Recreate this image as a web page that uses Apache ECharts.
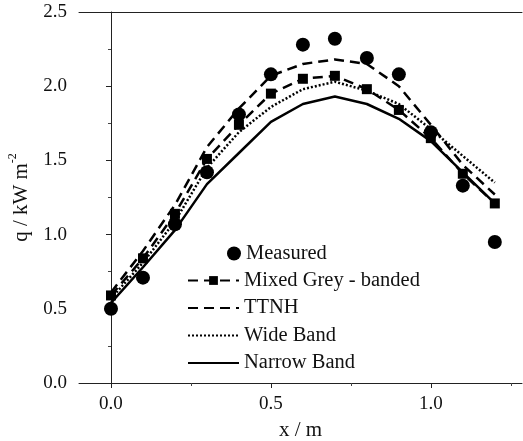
<!DOCTYPE html>
<html>
<head>
<meta charset="utf-8">
<script src="https://cdn.jsdelivr.net/npm/echarts@6/dist/echarts.min.js"></script>
<style>
  html, body { margin: 0; padding: 0; background: #fff; }
  #chart { width: 523px; height: 441px; }
</style>
</head>
<body>
<div id="chart"></div>
<script>
// x positions (m)
const xs = [0, 0.1, 0.2, 0.3, 0.4, 0.5, 0.6, 0.7, 0.8, 0.9, 1.0, 1.1, 1.2]
// heat flux q (kW m-2)
const measured = [0.50, 0.71, 1.07, 1.42, 1.81, 2.08, 2.28, 2.32, 2.19, 2.08, 1.69, 1.33, 0.95]
const mixedGrey = [0.59, 0.84, 1.14, 1.51, 1.74, 1.95, 2.05, 2.07, 1.98, 1.84, 1.65, 1.41, 1.21]
const ttnh = [0.61, 0.89, 1.20, 1.59, 1.85, 2.07, 2.15, 2.18, 2.15, 2.00, 1.74, 1.47, 1.27]
const wideBand = [0.57, 0.81, 1.09, 1.45, 1.69, 1.86, 1.98, 2.03, 1.97, 1.88, 1.71, 1.53, 1.35]
const narrowBand = [0.54, 0.78, 1.03, 1.34, 1.55, 1.76, 1.88, 1.93, 1.88, 1.78, 1.63, 1.42, 1.21]
const xMajorTicks = [0, 0.5, 1.0]
const xMinorTicks = [0.25, 0.75, 1.25]

const pairs = (ys) => xs.map((x, i) => [x, ys[i]])
const serif = 'Liberation Serif'

const chart = echarts.init(document.getElementById('chart'))
chart.setOption({
  animation: false,
  grid: { left: 79, right: 1, top: 12, bottom: 58, containLabel: false, outerBoundsMode: 'none' },
  legend: [
    {
      data: ['Measured'],
      orient: 'vertical',
      left: 222,
      top: 238,
      itemWidth: 14,
      itemHeight: 14,
      textStyle: { fontFamily: serif, fontSize: 20.5, color: '#111', lineHeight: 20 }
    },
    {
      data: [
        'Mixed Grey - banded',
        { name: 'TTNH', itemStyle: { opacity: 0 } },
        { name: 'Wide Band', itemStyle: { opacity: 0 } },
        { name: 'Narrow Band', itemStyle: { opacity: 0 } }
      ],
      orient: 'vertical',
      left: 182,
      top: 265,
      itemWidth: 51,
      itemHeight: 11,
      itemGap: 6.5,
      textStyle: { fontFamily: serif, fontSize: 20.5, color: '#111', lineHeight: 20 }
    }
  ],
  xAxis: [
    {
      type: 'value',
      min: -0.1,
      max: 1.285,
      position: 'bottom',
      name: 'x / m',
      nameLocation: 'middle',
      nameGap: 37,
      nameTextStyle: { fontFamily: serif, fontSize: 21, color: '#111' },
      axisLine: { lineStyle: { color: '#222', width: 1 } },
      axisTick: { show: true, length: 5, customValues: xMajorTicks, lineStyle: { color: '#222' } },
      axisLabel: {
        customValues: xMajorTicks,
        margin: 12,
        fontFamily: serif,
        fontSize: 19,
        color: '#111',
        formatter: (v) => v.toFixed(1)
      },
      splitLine: { show: false }
    },
    {
      type: 'value',
      min: -0.1,
      max: 1.285,
      position: 'top',
      axisLine: { lineStyle: { color: '#222', width: 1 } },
      axisTick: { show: false },
      axisLabel: { show: false },
      splitLine: { show: false }
    },
    {
      type: 'value',
      min: -0.1,
      max: 1.285,
      position: 'bottom',
      axisLine: { show: false },
      axisTick: { show: true, length: 3, customValues: xMinorTicks, lineStyle: { color: '#444' } },
      axisLabel: { show: false },
      splitLine: { show: false }
    }
  ],
  yAxis: {
    type: 'value',
    min: 0,
    max: 2.5,
    interval: 0.5,
    name: '{a|q / kW m}{s|-2}',
    nameLocation: 'middle',
    nameGap: 46,
    nameTextStyle: {
      color: '#111',
      rich: {
        a: { fontFamily: serif, fontSize: 21, color: '#111', lineHeight: 26, verticalAlign: 'bottom' },
        s: { fontFamily: serif, fontSize: 12, color: '#111', lineHeight: 26, verticalAlign: 'top' }
      }
    },
    axisLine: { show: true, lineStyle: { color: '#222', width: 1 } },
    axisTick: { show: true, length: 5, lineStyle: { color: '#222' } },
    minorTick: { show: true, splitNumber: 2, length: 3, lineStyle: { color: '#444' } },
    axisLabel: {
      margin: 12,
      fontFamily: serif,
      fontSize: 19,
      color: '#111',
      formatter: (v) => v.toFixed(1)
    },
    splitLine: { show: false }
  },
  series: [
    {
      name: 'Measured',
      type: 'scatter',
      data: pairs(measured),
      symbol: 'circle',
      symbolSize: 14,
      itemStyle: { color: '#000', opacity: 1 },
      z: 5
    },
    {
      name: 'Mixed Grey - banded',
      type: 'line',
      data: pairs(mixedGrey),
      symbol: 'rect',
      symbolSize: 10,
      showAllSymbol: true,
      itemStyle: { color: '#000' },
      lineStyle: { color: '#000', width: 2.5, type: [10, 6] },
      z: 4
    },
    {
      name: 'TTNH',
      type: 'line',
      data: pairs(ttnh),
      symbol: 'none',
      itemStyle: { color: '#000' },
      lineStyle: { color: '#000', width: 2.5, type: [10, 6] }
    },
    {
      name: 'Wide Band',
      type: 'line',
      data: pairs(wideBand),
      symbol: 'none',
      itemStyle: { color: '#000' },
      lineStyle: { color: '#000', width: 2.5, type: [2, 2] }
    },
    {
      name: 'Narrow Band',
      type: 'line',
      data: pairs(narrowBand),
      symbol: 'none',
      itemStyle: { color: '#000' },
      lineStyle: { color: '#000', width: 2.5 }
    }
  ]
})
</script>
</body>
</html>
